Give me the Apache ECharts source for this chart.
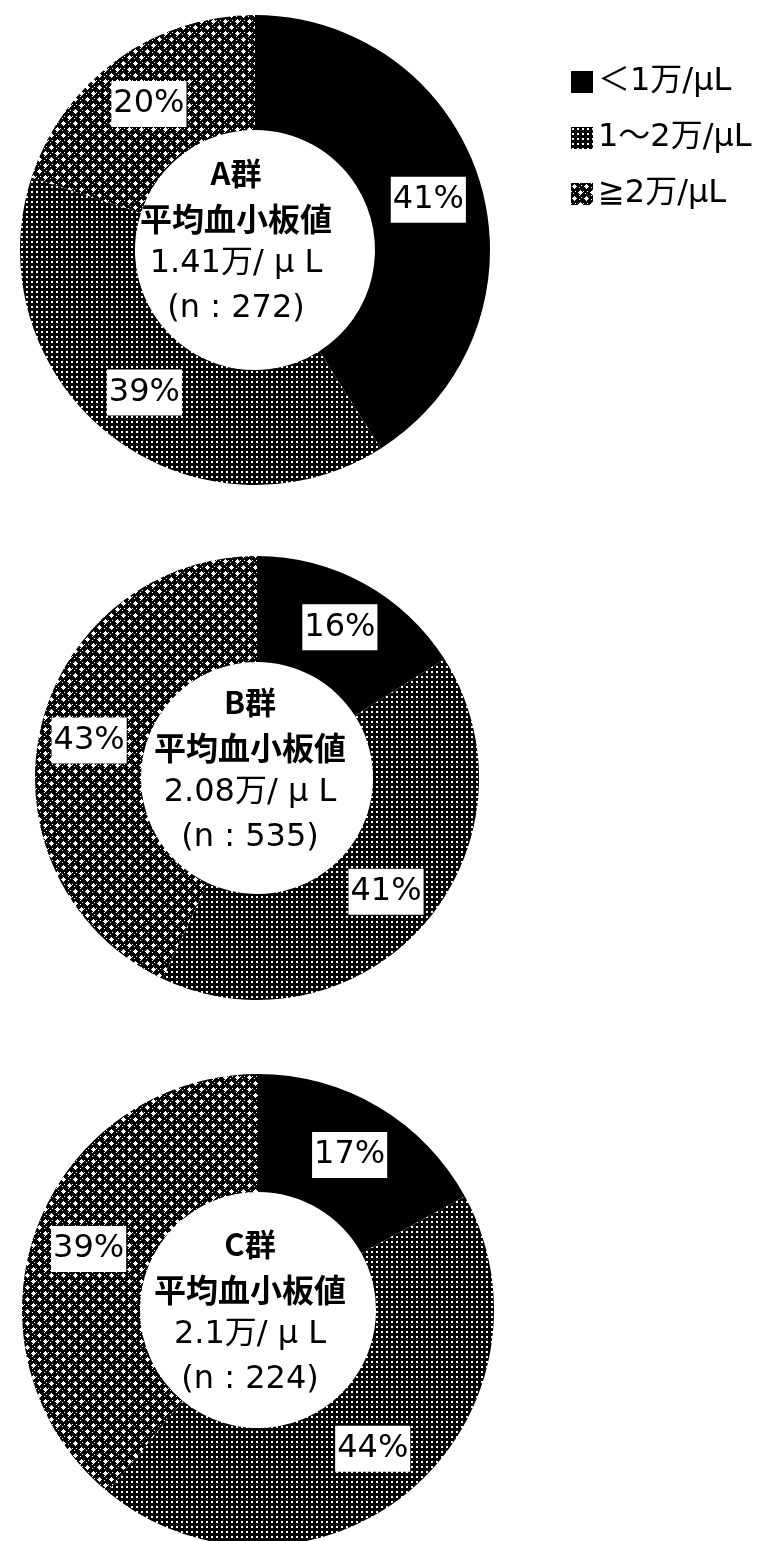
<!DOCTYPE html>
<html>
<head>
<meta charset="utf-8">
<script src="https://cdn.jsdelivr.net/npm/echarts@6/dist/echarts.min.js"></script>
<style>
  html, body { margin: 0; padding: 0; background: #fff; }
  #main { width: 774px; height: 1541px; }
</style>
</head>
<body>
<div id="main"></div>
<script>
// 血小板値の分布（群ごと）
const categories = ['＜1万/μL', '1～2万/μL', '≧2万/μL'];
const groupNames = ['A群', 'B群', 'C群'];
const meanValues = ['1.41万/ μ L', '2.08万/ μ L', '2.1万/ μ L'];
const sampleSizes = [272, 535, 224];
const groupA = [41, 39, 20];
const groupB = [16, 41, 43];
const groupC = [17, 44, 39];

// 塗りつぶしパターン
function dotPattern() {
  const c = document.createElement('canvas');
  c.width = 5; c.height = 5;
  const ctx = c.getContext('2d');
  ctx.fillStyle = '#000';
  ctx.fillRect(0, 0, 5, 5);
  ctx.fillStyle = '#fff';
  ctx.fillRect(1, 1, 2, 2);
  return c;
}
function crossPattern() {
  const c = document.createElement('canvas');
  c.width = 12; c.height = 12;
  const ctx = c.getContext('2d');
  ctx.fillStyle = '#000';
  ctx.fillRect(0, 0, 12, 12);
  ctx.fillStyle = '#fff';
  for (let y = 0; y < 12; y += 2) {
    for (let x = (y % 4 === 0 ? 0 : 2); x < 12; x += 4) {
      ctx.fillRect(x, y, 1, 1);
    }
  }
  ctx.fillStyle = '#000';
  [[3, 3], [9, 9]].forEach(function (p) {
    ctx.fillRect(p[0] - 3, p[1] - 3, 7, 7);
  });
  ctx.fillStyle = '#fff';
  [[3, 3], [9, 9]].forEach(function (p) {
    ctx.fillRect(p[0] - 2, p[1], 5, 1);
    ctx.fillRect(p[0], p[1] - 2, 1, 5);
    ctx.fillRect(p[0] - 1, p[1] - 1, 3, 3);
  });
  return c;
}
const colors = [
  '#000',
  { image: dotPattern(), repeat: 'repeat' },
  { image: crossPattern(), repeat: 'repeat' }
];

const font = '"DejaVu Sans", "Noto Sans CJK JP", sans-serif';
const cjkFont = '"Noto Sans CJK JP", "DejaVu Sans", sans-serif';
// center: ドーナツの中心, text: 中央テキストの位置
const pies = [
  { data: groupA, center: [255, 250], radius: [120, 235], text: [236, 241] },
  { data: groupB, center: [257, 778], radius: [116, 222], text: [250, 770] },
  { data: groupC, center: [258, 1310], radius: [118, 236], text: [250, 1312] }
];

const myChart = echarts.init(document.getElementById('main'));
const option = {
  backgroundColor: '#fff',
  animation: false,
  color: colors,
  legend: {
    orient: 'vertical',
    left: 566,
    top: 61,
    itemGap: 24,
    itemWidth: 22,
    itemHeight: 22,
    icon: 'rect',
    data: categories,
    textStyle: { fontSize: 32, color: '#000', fontFamily: font }
  },
  graphic: pies.map(function (p, i) {
    return {
      type: 'text',
      x: p.text[0],
      y: p.text[1],
      style: {
        text: '{b|' + groupNames[i] + '}\n{c|平均血小板値}\n{n|' + meanValues[i] + '}\n{n|(n : ' + sampleSizes[i] + ')}',
        align: 'center',
        verticalAlign: 'middle',
        fill: '#000',
        rich: {
          b: { fontSize: 31, fontWeight: 'bold', lineHeight: 45, fontFamily: cjkFont, fill: '#000' },
          c: { fontSize: 32, fontWeight: 'bold', lineHeight: 45, fontFamily: cjkFont, fill: '#000' },
          n: { fontSize: 32, lineHeight: 45, fontFamily: font, fill: '#000' }
        }
      }
    };
  }),
  series: pies.map(function (p) {
    return {
      type: 'pie',
      center: p.center,
      radius: p.radius,
      startAngle: 90,
      clockwise: true,
      silent: true,
      itemStyle: { borderWidth: 0 },
      label: {
        position: 'inside',
        formatter: '{c}%',
        fontSize: 32,
        color: '#000',
        fontFamily: font,
        backgroundColor: '#fff',
        padding: [8, 2, 6, 2]
      },
      labelLine: { show: false },
      data: categories.map(function (name, j) {
        return { name: name, value: p.data[j] };
      })
    };
  })
};
myChart.setOption(option);
</script>
</body>
</html>
